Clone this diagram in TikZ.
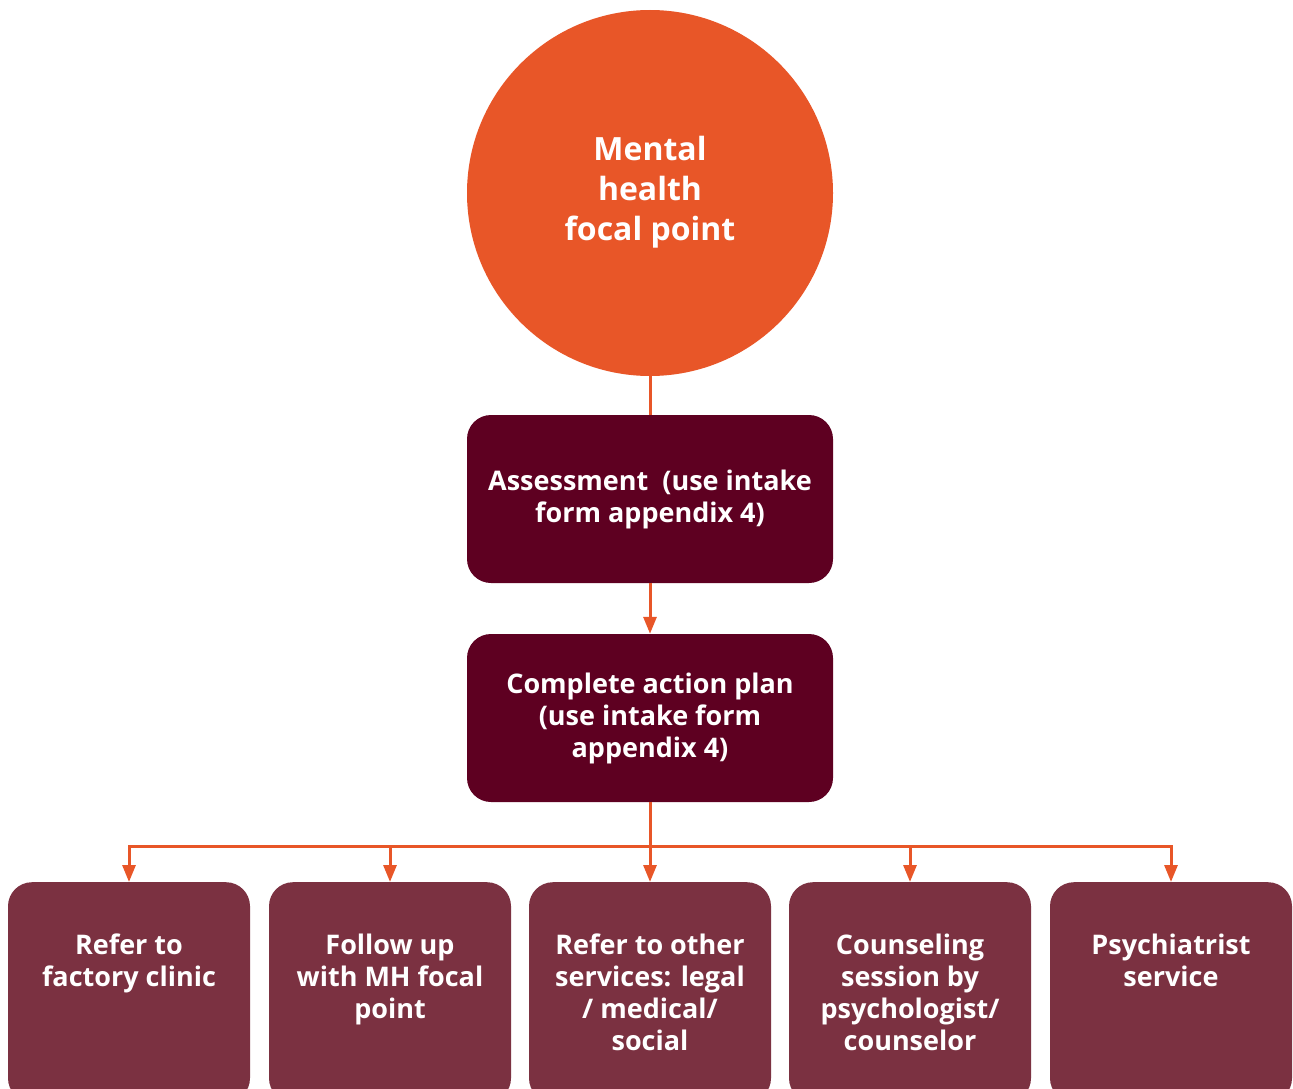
\documentclass[tikz,border=0pt]{standalone}
\usepackage{fontspec}
\setmainfont{Open Sans}
\usetikzlibrary{positioning}
\usetikzlibrary{arrows.meta}

\definecolor{focalorange}{HTML}{E85628}
\definecolor{stepdark}{HTML}{5E0021}
\definecolor{leafred}{HTML}{7B3141}

\tikzset{
  focal/.style = {circle, fill=focalorange, minimum size=366pt, inner sep=0pt,
    text=white, align=center, font=\bfseries\fontsize{32}{40}\selectfont},
  stepbox/.style = {rectangle, rounded corners=24pt, fill=stepdark, minimum width=366pt,
    minimum height=168pt, text=white, align=center, font=\bfseries\fontsize{27}{32}\selectfont},
  leaf/.style = {rectangle, rounded corners=24pt, fill=leafred, minimum width=242pt,
    minimum height=220pt, anchor=north},
  leaftext/.style = {text=white, align=center, anchor=north, inner sep=0pt,
    font=\bfseries\fontsize{27}{32}\selectfont},
  link/.style = {draw=focalorange, line width=3pt},
  arrow/.style = {link, -{Triangle[width=13pt,length=17pt]}}
}

\begin{document}
\begin{tikzpicture}[x=1pt, y=-1pt]
  \useasboundingbox (0,0) rectangle (1293,1089);
  \clip (0,0) rectangle (1293,1089);

  \node[focal] (mh) at (650,193) {Mental\\health\\focal point\\[-30pt]};
  \node[stepbox] (assess) at (650,499) {Assessment\ \ (use intake\\form appendix 4)};
  \node[stepbox] (plan) at (650,718) {Complete action plan\\(use intake form\\appendix 4)};
  \coordinate (bus) at (650,846);

  \node[leaf] (clinic) at (129,882) {};
  \node[leaf] (follow) at (390,882) {};
  \node[leaf] (other) at (650,882) {};
  \node[leaf] (counsel) at (910,882) {};
  \node[leaf] (psych) at (1171,882) {};

  \node[leaftext, below=52pt of clinic.north] (clinic-t) {Refer to\\factory clinic};
  \node[leaftext, below=52pt of follow.north] (follow-t) {Follow up\\with MH focal\\point};
  \node[leaftext, below=52pt of other.north] (other-t) {Refer to other\\services: legal\\/ medical/\\social};
  \node[leaftext, below=52pt of counsel.north] (counsel-t) {Counseling\\session by\\psychologist/\\counselor};
  \node[leaftext, below=52pt of psych.north] (psych-t) {Psychiatrist\\service};

  \draw[link] (mh) -- (assess);
  \draw[arrow] (assess) -- (plan);
  \draw[link] (plan) -- (bus);
  \foreach \n in {clinic, follow, other, counsel, psych}
    \draw[arrow] (bus) -| (\n.north);
\end{tikzpicture}
\end{document}
